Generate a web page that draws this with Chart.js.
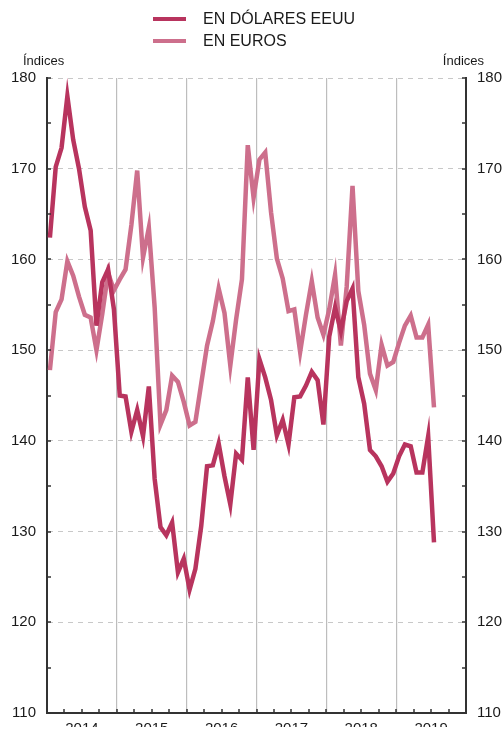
<!DOCTYPE html>
<html>
<head>
<meta charset="utf-8">
<script src="https://cdn.jsdelivr.net/npm/chart.js@4.4.1/dist/chart.umd.min.js"></script>
<style>
  html, body { margin: 0; padding: 0; background: #fff; overflow: hidden; }
</style>
</head>
<body>
<canvas id="grafico" width="503" height="733"></canvas>
<script>
"use strict";

// años del eje x (12 meses cada uno, ene-2014 .. jul-2019)
var years = ['2014', '2015', '2016', '2017', '2018', '2019'];

var enDolares = [
  162.4, 170.2, 172.3, 178.0, 173.2, 170.0, 165.8, 163.2, 152.7, 157.5, 158.9, 154.5,
  145.0, 144.9, 141.0, 143.4, 140.5, 146.0, 135.8, 130.5, 129.6, 131.0, 125.5, 127.0,
  123.6, 125.9, 130.6, 137.2, 137.3, 139.7, 136.1, 133.0, 138.6, 137.9, 147.0, 139.0,
  149.0, 147.0, 144.5, 140.6, 142.3, 139.6, 144.8, 144.9, 146.1, 147.6, 146.7, 141.8,
  151.5, 154.7, 152.1, 155.4, 156.8, 147.0, 144.1, 139.0, 138.3, 137.2, 135.5, 136.4,
  138.3, 139.6, 139.4, 136.5, 136.5, 140.5, 128.8
];

var enEuros = [
  147.8, 154.2, 155.6, 159.8, 158.2, 155.9, 153.9, 153.6, 150.0, 154.0, 158.5, 156.6,
  157.8, 158.9, 163.8, 169.8, 160.2, 163.5, 154.7, 141.8, 143.4, 147.2, 146.5, 144.3,
  141.7, 142.1, 146.3, 150.5, 153.2, 156.8, 154.1, 148.3, 153.4, 157.8, 172.6, 166.8,
  171.0, 171.8, 165.2, 160.1, 157.9, 154.3, 154.5, 149.8, 153.9, 157.6, 153.6, 151.7,
  154.5, 158.3, 150.5, 157.0, 168.1, 156.5, 152.8, 147.4, 145.6, 150.6, 148.3, 148.7,
  150.8, 152.7, 153.8, 151.4, 151.4, 152.8, 143.7
];

var seriesNames = ['EN DÓLARES EEUU', 'EN EUROS'];
var seriesColors = ['#b8345e', '#cd6f8c'];
var axisTitle = 'Índices';
var yMin = 110, yMax = 180;

var fontFamily = '"Liberation Sans", Arial, Helvetica, sans-serif';

function toPoints(arr) {
  return arr.map(function (v, i) { return { x: i + 0.5, y: v }; });
}

// marcas interiores, leyenda y rótulos "Índices"
var extras = {
  id: 'extras',
  afterDraw: function (chart) {
    var ctx = chart.ctx;
    var area = chart.chartArea;
    var ys = chart.scales.y;
    var xs = chart.scales.x;
    ctx.save();
    ctx.strokeStyle = '#333';
    ctx.lineWidth = 1.5;
    ctx.beginPath();
    for (var v = yMin; v <= yMax; v += 5) {
      var py = Math.round(ys.getPixelForValue(v));
      ctx.moveTo(area.left, py); ctx.lineTo(area.left + 4, py);
      ctx.moveTo(area.right - 4, py); ctx.lineTo(area.right, py);
    }
    for (var m = 3; m < years.length * 12; m += 3) {
      var px = Math.round(xs.getPixelForValue(m));
      ctx.moveTo(px, area.bottom); ctx.lineTo(px, area.bottom - 4);
    }
    ctx.stroke();

    // leyenda
    ctx.font = '16px ' + fontFamily;
    ctx.textBaseline = 'middle';
    ctx.textAlign = 'left';
    chart.data.datasets.forEach(function (ds, i) {
      var ly = 19 + i * 22;
      ctx.strokeStyle = ds.borderColor;
      ctx.lineWidth = 4;
      ctx.beginPath();
      ctx.moveTo(153, ly); ctx.lineTo(186, ly);
      ctx.stroke();
      ctx.fillStyle = '#1a1a1a';
      ctx.fillText(ds.label, 203, ly + 1);
    });

    ctx.font = '13px ' + fontFamily;
    ctx.fillText(axisTitle, 23, 61);
    ctx.textAlign = 'right';
    ctx.fillText(axisTitle, 484, 61);
    ctx.restore();
  }
};

var ctx = document.getElementById('grafico');
var myChart = new Chart(ctx, {
  type: 'line',
  data: {
    datasets: [{
      label: seriesNames[0],
      data: toPoints(enDolares),
      borderColor: seriesColors[0],
      borderWidth: 4.5,
      pointRadius: 0,
      tension: 0,
      borderJoinStyle: 'miter',
      yAxisID: 'y'
    }, {
      label: seriesNames[1],
      data: toPoints(enEuros),
      borderColor: seriesColors[1],
      borderWidth: 4.5,
      pointRadius: 0,
      tension: 0,
      borderJoinStyle: 'miter',
      yAxisID: 'y'
    }]
  },
  options: {
    responsive: false,
    animation: false,
    devicePixelRatio: 1,
    layout: { padding: { top: 78, left: 0, right: 0, bottom: 0 } },
    plugins: {
      legend: { display: false },
      tooltip: { enabled: false }
    },
    scales: {
      x: {
        type: 'linear',
        min: 0,
        max: years.length * 12,
        afterFit: function (s) { s.height = 14; },
        ticks: {
          stepSize: 3,
          autoSkip: false,
          maxRotation: 0,
          padding: 7,
          color: '#1a1a1a',
          font: { family: fontFamily, size: 15 },
          callback: function (value) {
            return value % 12 === 6 ? years[(value - 6) / 12] : '';
          }
        },
        grid: {
          drawTicks: false,
          lineWidth: 1.2,
          color: function (c) {
            var v = c.tick ? c.tick.value : 0;
            return (v % 12 === 0 && v > 0 && v < years.length * 12) ? '#bdbdbd' : 'transparent';
          }
        },
        border: { display: true, color: '#333', width: 2 }
      },
      y: {
        position: 'left',
        min: yMin,
        max: yMax,
        afterFit: function (s) { s.width = 47; },
        ticks: {
          stepSize: 5,
          padding: 11,
          color: '#1a1a1a',
          font: { family: fontFamily, size: 15 },
          callback: function (value) { return value % 10 === 0 ? value : ''; }
        },
        grid: {
          drawTicks: false,
          lineWidth: 1,
          color: function (c) {
            var v = c.tick ? c.tick.value : 0;
            return (v % 10 === 0 && v > yMin) ? '#c8c8c8' : 'transparent';
          }
        },
        border: { display: true, color: '#333', width: 2, dash: [5, 5] }
      },
      y2: {
        position: 'right',
        min: yMin,
        max: yMax,
        afterFit: function (s) { s.width = 37; },
        ticks: {
          stepSize: 5,
          padding: 11,
          color: '#1a1a1a',
          font: { family: fontFamily, size: 15 },
          callback: function (value) { return value % 10 === 0 ? value : ''; }
        },
        grid: { display: false, drawTicks: false },
        border: { display: true, color: '#333', width: 2 }
      }
    }
  },
  plugins: [extras]
});
</script>
</body>
</html>
